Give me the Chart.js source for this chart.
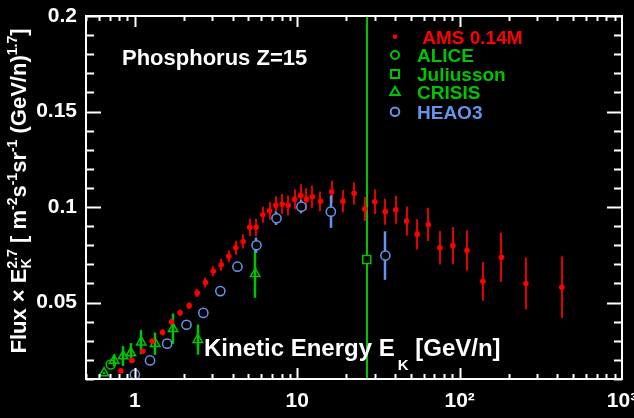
<!DOCTYPE html>
<html>
<head>
<meta charset="utf-8">
<script src="https://cdn.jsdelivr.net/npm/chart.js@4/dist/chart.umd.min.js"></script>
<style>
  html, body { margin: 0; padding: 0; background: #000; }
  canvas { display: block; }
</style>
</head>
<body>
<canvas id="myChart" width="634" height="418"></canvas>
<script>
// AMS 0.14M
var amsE = [0.82, 0.96, 1.12, 1.28, 1.48, 1.68, 1.9, 2.16, 2.42, 2.72, 3.04, 3.4, 3.79, 4.18, 4.64, 5.1, 5.58,
    6.14, 6.75, 7.38, 8.08, 8.8, 9.62, 10.5, 11.4, 12.4, 13.9, 16.3, 19.1, 22.4, 26.0, 30.0, 34.8, 40.4,
    47.1, 54.8, 64.1, 75.6, 90.9, 111, 139, 181, 256, 426];
var amsFlux = [0.0143, 0.0197, 0.0245, 0.0298, 0.0344, 0.040, 0.0447, 0.0484, 0.055, 0.0605, 0.0664, 0.0698,
    0.0742, 0.0787, 0.082, 0.0894, 0.0894, 0.096, 0.098, 0.1009, 0.1016, 0.1009, 0.104, 0.1061, 0.104,
    0.1054, 0.103, 0.108, 0.1031, 0.1072, 0.099, 0.1028, 0.0976, 0.0986, 0.0927, 0.0857, 0.0909, 0.0787,
    0.0798, 0.0772, 0.0611, 0.0737, 0.060, 0.058];
var amsErr = [0.001, 0.001, 0.001, 0.001, 0.0016, 0.0016, 0.0016, 0.0016, 0.0021, 0.0026, 0.0026, 0.0031,
    0.0031, 0.0037, 0.0037, 0.0045, 0.0045, 0.0042, 0.0047, 0.0047, 0.0052, 0.0052, 0.0052, 0.0058, 0.0058,
    0.0058, 0.0052, 0.0058, 0.0058, 0.0058, 0.0063, 0.0064, 0.0068, 0.0073, 0.0076, 0.0079, 0.0087, 0.0088,
    0.0098, 0.0105, 0.0102, 0.0129, 0.0136, 0.0161];

// ALICE
var aliceE = [0.71];
var aliceFlux = [0.0176];
var aliceErr = [0];

// Juliusson
var julE = [26.8];
var julFlux = [0.0725];
var julErr = [0.2];

// CRISIS
var crisisE = [0.646, 0.745, 0.847, 0.945, 1.094, 1.334, 1.72, 2.44, 5.51];
var crisisFlux = [0.0131, 0.0197, 0.022, 0.0236, 0.0293, 0.0285, 0.0363, 0.0306, 0.0651];
var crisisErr = [0.0005, 0.0031, 0.0052, 0.0052, 0.0063, 0.0058, 0.0079, 0.0079, 0.0126];

// HEAO3
var heaoE = [1.0, 1.24, 1.58, 2.08, 2.64, 3.36, 4.28, 5.61, 7.45, 10.6, 16.1, 34.9];
var heaoFlux = [0.0124, 0.0197, 0.0285, 0.0384, 0.0446, 0.056, 0.0688, 0.080, 0.0941, 0.1002, 0.0976, 0.0746];
var heaoErr = [0.001, 0.001, 0.001, 0.001, 0.001, 0.0015, 0.002, 0.004, 0.0035, 0.0035, 0.0085, 0.0127];

var xTicks = [1, 10, 100, 1000];
var xTickLabels = ['1', '10', '10\u00B2', '10\u00B3'];
var yTicks = [0.05, 0.1, 0.15, 0.2];
var yTickLabels = ['0.05', '0.1', '0.15', '0.2'];

var FONT = "'Liberation Sans', Arial, Helvetica, sans-serif";
var RED = '#ff0000', GREEN = '#00c400', BLUE = '#6495ed';

function pts(xs, ys) {
    return xs.map(function (x, i) { return { x: x, y: ys[i] }; });
}

// text pieces {t, size, dy, dx, stack}; a "stack" piece shares its x with the next one
function layoutRuns(ctx, runs, x, y, draw) {
    var stackW = 0;
    runs.forEach(function (r) {
        ctx.font = 'bold ' + r.size + 'px ' + FONT;
        x += (r.dx || 0);
        var w = ctx.measureText(r.t).width;
        if (draw) ctx.fillText(r.t, x, y + (r.dy || 0));
        if (r.stack) { stackW = w; return; }
        x += Math.max(w, stackW);
        stackW = 0;
    });
    return x;
}

var decor = {
    id: 'decor',
    beforeDraw: function (chart) {
        var ctx = chart.ctx;
        ctx.save();
        ctx.fillStyle = '#000';
        ctx.fillRect(0, 0, chart.width, chart.height);
        ctx.restore();
    },
    beforeDatasetsDraw: function (chart) {
        // error bars
        var ctx = chart.ctx, a = chart.chartArea;
        var xs = chart.scales.x, ys = chart.scales.y;
        ctx.save();
        ctx.beginPath();
        ctx.rect(a.left, a.top, a.right - a.left, a.bottom - a.top);
        ctx.clip();
        chart.data.datasets.forEach(function (ds) {
            if (!ds.errors) return;
            ctx.strokeStyle = ds.errorColor;
            ctx.lineWidth = ds.errorWidth;
            ds.data.forEach(function (p, i) {
                var e = ds.errors[i];
                if (!e) return;
                var px = Math.round(xs.getPixelForValue(p.x));
                ctx.beginPath();
                ctx.moveTo(px, ys.getPixelForValue(p.y - e));
                ctx.lineTo(px, ys.getPixelForValue(p.y + e));
                ctx.stroke();
            });
        });
        ctx.restore();
    },
    afterDraw: function (chart) {
        var ctx = chart.ctx, a = chart.chartArea;
        var xs = chart.scales.x, ys = chart.scales.y;
        ctx.save();
        ctx.strokeStyle = '#fff';
        ctx.lineWidth = 2;
        ctx.strokeRect(a.left, a.top, a.right - a.left, a.bottom - a.top);

        // x ticks, log decades
        ctx.beginPath();
        [0.1, 1, 10, 100].forEach(function (d) {
            for (var k = 1; k <= 9; k++) {
                var v = k * d;
                if (v < 0.5 || v > 1000) continue;
                var px = Math.round(xs.getPixelForValue(v)) + 0.5;
                var len = (k === 1) ? 11 : 5;
                ctx.moveTo(px, a.bottom); ctx.lineTo(px, a.bottom - len);
                ctx.moveTo(px, a.top); ctx.lineTo(px, a.top + len);
            }
        });
        // y ticks every 0.01
        for (var j = 1; j <= 20; j++) {
            var v = j / 100;
            var py = Math.round(ys.getPixelForValue(v)) + 0.5;
            var len = (j % 5 === 0) ? 15 : 8;
            ctx.moveTo(a.left, py); ctx.lineTo(a.left + len, py);
            ctx.moveTo(a.right, py); ctx.lineTo(a.right - len, py);
        }
        ctx.stroke();

        // title
        ctx.fillStyle = '#fff';
        ctx.textBaseline = 'alphabetic';
        ctx.textAlign = 'left';
        ctx.font = 'bold 22px ' + FONT;
        ctx.fillText('Phosphorus Z=15', 122, 65);

        // x axis title inside the plot
        layoutRuns(ctx, [
            { t: 'Kinetic Energy E', size: 24 },
            { t: 'K', size: 15, dy: 14, dx: 3 },
            { t: ' [GeV/n]', size: 24 }
        ], 204, 356, true);

        // y axis title
        var yRuns = [
            { t: 'Flux \u00D7 E', size: 22 },
            { t: '2.7', size: 14, dy: -9, stack: true },
            { t: 'K', size: 14, dy: 5 },
            { t: ' [ m', size: 22 },
            { t: '-2', size: 14, dy: -9 },
            { t: 's', size: 22 },
            { t: '-1', size: 14, dy: -9 },
            { t: 'sr', size: 22 },
            { t: '-1', size: 14, dy: -9 },
            { t: ' (GeV/n)', size: 22 },
            { t: '1.7', size: 14, dy: -9 },
            { t: ']', size: 22 }
        ];
        ctx.save();
        ctx.translate(26, 191);
        ctx.rotate(-Math.PI / 2);
        var w = layoutRuns(ctx, yRuns, 0, 0, false);
        layoutRuns(ctx, yRuns, -w / 2, 0, true);
        ctx.restore();

        // legend
        var ly = [36.7, 55, 74, 92.3, 111.7];
        chart.data.datasets.forEach(function (ds, i) {
            ctx.save();
            ctx.strokeStyle = ds.borderColor;
            ctx.fillStyle = ds.backgroundColor;
            Chart.helpers.drawPoint(ctx, {
                pointStyle: ds.pointStyle,
                radius: ds.legendRadius,
                borderWidth: ds.borderWidth,
                rotation: 0
            }, 395, ly[i]);
            ctx.restore();
            ctx.fillStyle = ds.textColor;
            ctx.font = 'bold 19px ' + FONT;
            ctx.fillText(ds.label, 417, ly[i] + 7);
        });
        ctx.restore();
    }
};

var config = {
    type: 'scatter',
    data: {
        datasets: [{
            label: ' AMS 0.14M',
            data: pts(amsE, amsFlux),
            errors: amsErr,
            errorColor: '#e00000',
            errorWidth: 2,
            pointStyle: 'circle',
            pointRadius: 2.8,
            legendRadius: 2.3,
            borderWidth: 0,
            borderColor: RED,
            backgroundColor: RED,
            textColor: RED
        }, {
            label: 'ALICE',
            data: pts(aliceE, aliceFlux),
            errors: aliceErr,
            errorColor: GREEN,
            errorWidth: 2,
            pointStyle: 'circle',
            pointRadius: 4.5,
            legendRadius: 4,
            borderWidth: 1.5,
            borderColor: GREEN,
            backgroundColor: 'rgba(0,0,0,0)',
            textColor: GREEN
        }, {
            label: 'Juliusson',
            data: pts(julE, julFlux),
            errors: julErr,
            errorColor: GREEN,
            errorWidth: 2,
            pointStyle: 'rect',
            pointRadius: 5.7,
            legendRadius: 5.7,
            borderWidth: 1.5,
            borderColor: GREEN,
            backgroundColor: '#000',
            textColor: GREEN
        }, {
            label: 'CRISIS',
            data: pts(crisisE, crisisFlux),
            errors: crisisErr,
            errorColor: GREEN,
            errorWidth: 2.5,
            pointStyle: 'triangle',
            pointRadius: 5.5,
            legendRadius: 5.5,
            borderWidth: 1.5,
            borderColor: GREEN,
            backgroundColor: 'rgba(0,0,0,0)',
            textColor: GREEN
        }, {
            label: 'HEAO3',
            data: pts(heaoE, heaoFlux),
            errors: heaoErr,
            errorColor: BLUE,
            errorWidth: 2.5,
            pointStyle: 'circle',
            pointRadius: 4.6,
            legendRadius: 4.3,
            borderWidth: 1.5,
            borderColor: BLUE,
            backgroundColor: '#000',
            textColor: BLUE
        }]
    },
    options: {
        responsive: false,
        devicePixelRatio: 1,
        animation: false,
        layout: { padding: { left: 0, right: 12, top: 16, bottom: 0 } },
        plugins: {
            legend: { display: false },
            tooltip: { enabled: false }
        },
        scales: {
            x: {
                type: 'logarithmic',
                min: 0.5,
                max: 1000,
                grid: { display: false, drawTicks: false },
                border: { display: false },
                ticks: {
                    color: '#fff',
                    font: { family: FONT, size: 21, weight: 'bold' },
                    padding: 10,
                    autoSkip: false,
                    maxRotation: 0,
                    callback: function (v) { return xTickLabels[xTicks.indexOf(v)]; }
                },
                afterBuildTicks: function (s) {
                    s.ticks = xTicks.map(function (v) { return { value: v }; });
                },
                afterFit: function (s) {
                    s.height = 39;
                    s.paddingLeft = 0;
                    s.paddingRight = 0;
                }
            },
            y: {
                type: 'linear',
                min: 0.01,
                max: 0.2,
                grid: { display: false, drawTicks: false },
                border: { display: false },
                ticks: {
                    color: '#fff',
                    font: { family: FONT, size: 21, weight: 'bold' },
                    padding: 9,
                    autoSkip: false,
                    callback: function (v) { return yTickLabels[yTicks.indexOf(v)]; }
                },
                afterBuildTicks: function (s) {
                    s.ticks = yTicks.map(function (v) { return { value: v }; });
                },
                afterFit: function (s) {
                    s.width = 86;
                    s.paddingTop = 0;
                    s.paddingBottom = 0;
                }
            }
        }
    },
    plugins: [decor]
};

window.addEventListener('DOMContentLoaded', function () {
    var ctx = document.getElementById('myChart').getContext('2d');
    window.myChart = new Chart(ctx, config);
});
</script>
</body>
</html>
